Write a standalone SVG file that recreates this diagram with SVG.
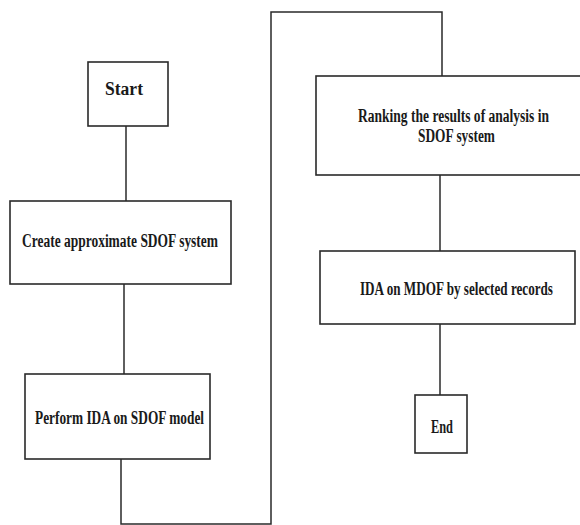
<svg xmlns="http://www.w3.org/2000/svg" width="580" height="525" viewBox="0 0 580 525">
<style>
.box{fill:#fff;stroke:#2a2a2a;stroke-width:1.6}
.ln{fill:none;stroke:#2a2a2a;stroke-width:1.5}
.t{font-family:"Liberation Serif","Times New Roman",serif;font-weight:bold;font-size:19px;fill:#1a1a1a;text-anchor:middle}
</style>
<rect width="580" height="525" fill="#fff"/>
<g id="connectors">
<line class="ln" x1="126" y1="126" x2="126" y2="201"/>
<line class="ln" x1="124" y1="284" x2="124" y2="374"/>
<polyline class="ln" points="121,459 121,524 271,524 271,12 442,12 442,76"/>
<line class="ln" x1="440" y1="175" x2="440" y2="251"/>
<line class="ln" x1="440" y1="324" x2="440" y2="395"/>
</g>
<g id="start">
<rect class="box" x="88" y="62" width="80" height="64"/>
<text class="t" transform="scale(0.72,1)" x="172.2" y="95" textLength="52.8" lengthAdjust="spacingAndGlyphs">Start</text>
</g>
<g id="create">
<rect class="box" x="10" y="201" width="221" height="83"/>
<text class="t" transform="scale(0.72,1)" x="166.7" y="247" textLength="272.2" lengthAdjust="spacingAndGlyphs">Create approximate SDOF system</text>
</g>
<g id="perform">
<rect class="box" x="25" y="374" width="185" height="85"/>
<text class="t" transform="scale(0.72,1)" x="166" y="424" textLength="234.7" lengthAdjust="spacingAndGlyphs">Perform IDA on SDOF model</text>
</g>
<g id="ranking">
<rect class="box" x="316" y="76" width="266" height="99"/>
<text class="t" transform="scale(0.72,1)" x="629.9" y="122" textLength="265.3" lengthAdjust="spacingAndGlyphs">Ranking the results of analysis in</text>
<text class="t" transform="scale(0.72,1)" x="634" y="142" textLength="107" lengthAdjust="spacingAndGlyphs">SDOF system</text>
</g>
<g id="mdof">
<rect class="box" x="320" y="251" width="255" height="73"/>
<text class="t" transform="scale(0.72,1)" x="634" y="295" textLength="268" lengthAdjust="spacingAndGlyphs">IDA on MDOF by selected records</text>
</g>
<g id="end">
<rect class="box" x="415" y="395" width="52" height="58"/>
<text class="t" transform="scale(0.72,1)" x="613.9" y="433" textLength="30.6" lengthAdjust="spacingAndGlyphs">End</text>
</g>
</svg>
